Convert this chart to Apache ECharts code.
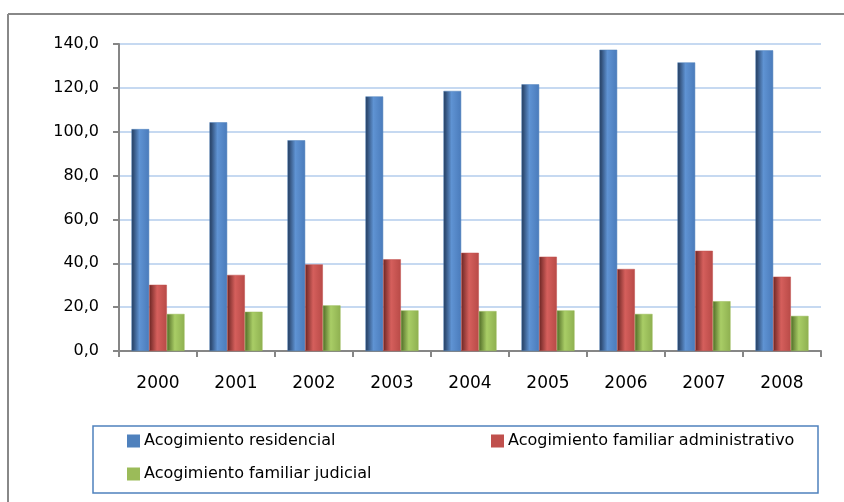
<!DOCTYPE html>
<html>
<head>
<meta charset="utf-8">
<script src="https://cdn.jsdelivr.net/npm/echarts@6/dist/echarts.min.js"></script>
<style>html,body{margin:0;padding:0;background:#fff}#c{width:844px;height:502px}</style>
</head>
<body>
<div id="c"></div>
<script>
var years = ['2000','2001','2002','2003','2004','2005','2006','2007','2008'];
var seriesNames = ['Acogimiento residencial','Acogimiento familiar administrativo','Acogimiento familiar judicial'];
var residencial = [101.2, 104.3, 96.1, 116.1, 118.6, 121.6, 137.4, 131.6, 137.1];
var administrativo = [30.2, 34.7, 39.5, 41.8, 44.8, 43.0, 37.4, 45.7, 33.9];
var judicial = [16.9, 17.9, 20.8, 18.5, 18.2, 18.5, 16.9, 22.7, 16.0];

function grad(c0, c1, c2) {
  return new echarts.graphic.LinearGradient(0, 0, 1, 0, [
    {offset: 0, color: c0}, {offset: 0.45, color: c1}, {offset: 1, color: c2}
  ]);
}
var fills = [
  grad('#22395a', '#5f93d3', '#4a7bbb'),
  grad('#6a2523', '#d55f5c', '#b84a47'),
  grad('#4f6a26', '#a9cd66', '#8eb050')
];
var legendColors = ['#4f81bd', '#c0504d', '#9bbb59'];
var dataSets = [residencial, administrativo, judicial];

var chart = echarts.init(document.getElementById('c'));
var labelFont = {fontFamily: 'DejaVu Sans', fontSize: 16, color: '#000'};
var legendText = {fontFamily: 'DejaVu Sans', fontSize: 16, color: '#000'};

chart.setOption({
  animation: false,
  grid: {left: 119, right: 23, top: 44, bottom: 151, containLabel: false},
  xAxis: {
    type: 'category', data: years,
    axisLine: {lineStyle: {color: '#868686', width: 2}},
    axisTick: {show: true, length: 6, lineStyle: {color: '#868686', width: 2}},
    axisLabel: Object.assign({margin: 24}, labelFont, {fontSize: 17})
  },
  yAxis: {
    type: 'value', min: 0, max: 140, interval: 20,
    axisLine: {show: true, lineStyle: {color: '#868686', width: 2}},
    axisTick: {show: true, length: 6, lineStyle: {color: '#868686', width: 2}},
    splitLine: {lineStyle: {color: '#c6d9f1', width: 2}},
    axisLabel: Object.assign({margin: 20, formatter: function (v) { return v.toFixed(1).replace('.', ','); }}, labelFont)
  },
  legend: [0, 1, 2].map(function (i) {
    var pos = [{left: 127, top: 433}, {left: 491, top: 433}, {left: 127, top: 466}][i];
    return {
      data: [{name: seriesNames[i], itemStyle: {color: legendColors[i]}}],
      left: pos.left, top: pos.top, itemWidth: 11, itemHeight: 11, itemGap: 6,
      icon: 'rect', textStyle: legendText, padding: 0
    };
  }),
  graphic: [
    {type: 'rect', shape: {x: 93, y: 426, width: 725, height: 67}, style: {fill: 'none', stroke: '#4f81bd', lineWidth: 1.5}, z: -1},
    {type: 'line', shape: {x1: 8, y1: 14, x2: 844, y2: 14}, style: {stroke: '#888', lineWidth: 2}},
    {type: 'line', shape: {x1: 8, y1: 14, x2: 8, y2: 502}, style: {stroke: '#888', lineWidth: 2}}
  ],
  series: dataSets.map(function (d, i) {
    return {
      name: seriesNames[i], type: 'bar', data: d,
      barGap: '0%', barCategoryGap: '32%',
      itemStyle: {color: fills[i], borderColor: legendColors[i], borderWidth: 0.5}
    };
  })
});
</script>
</body>
</html>
